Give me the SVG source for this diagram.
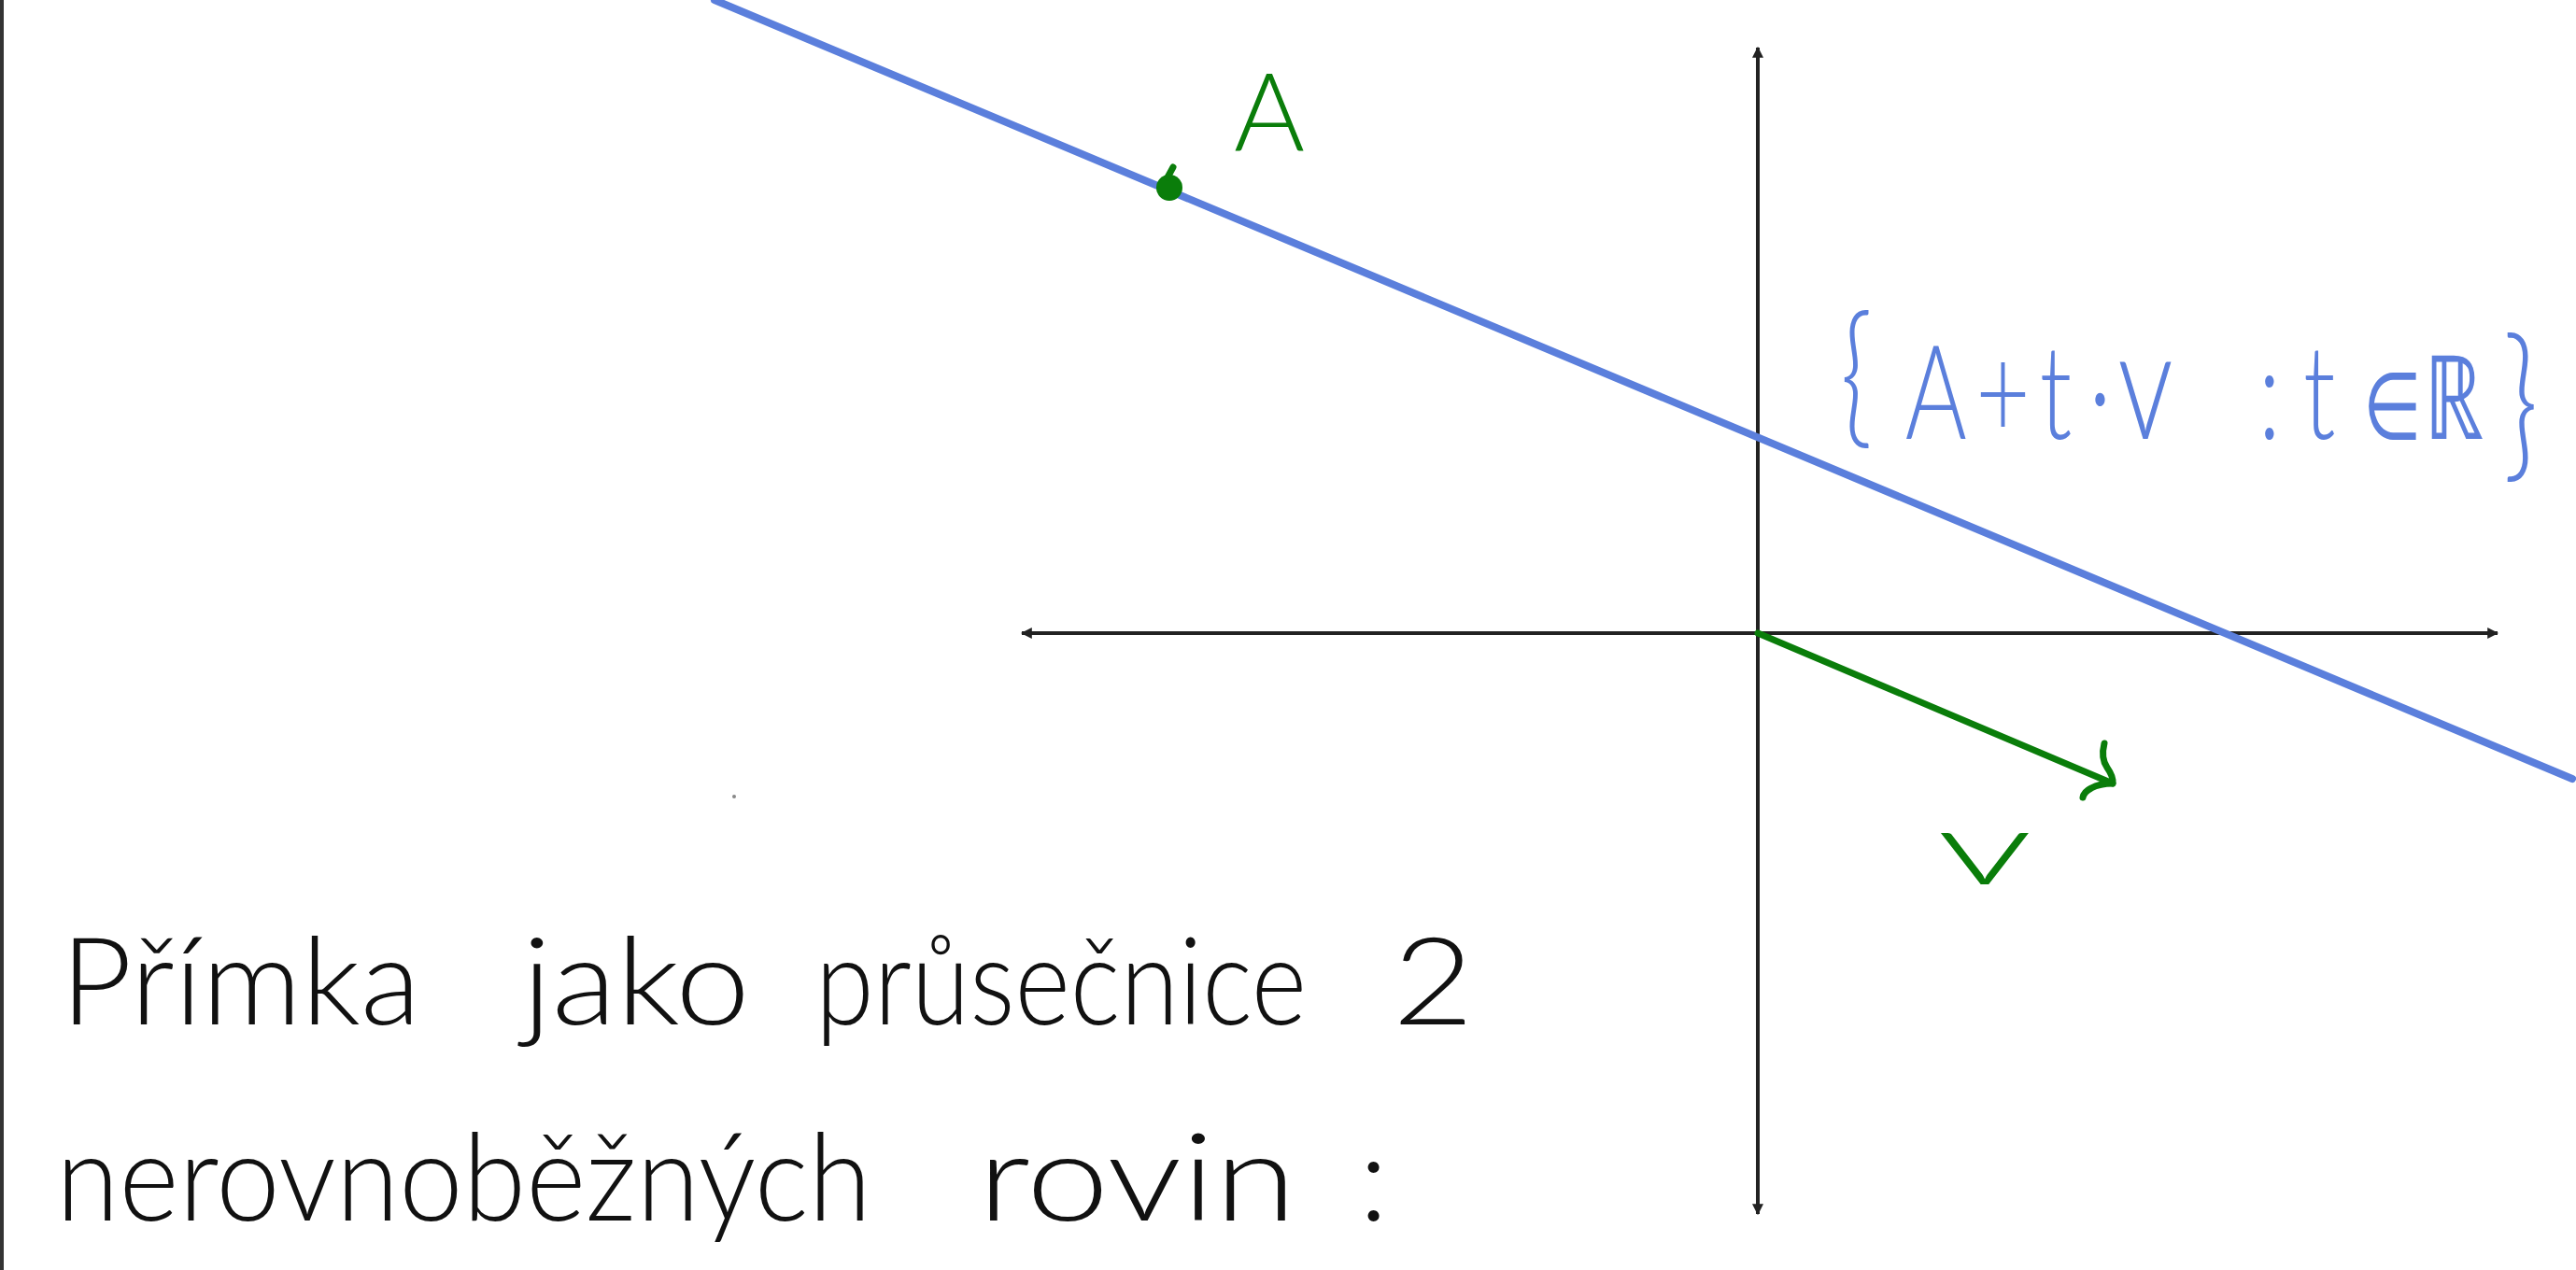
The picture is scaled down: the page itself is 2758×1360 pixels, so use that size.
<svg xmlns="http://www.w3.org/2000/svg" width="2758" height="1360" viewBox="0 0 2758 1360">
<style>
.axis{stroke:#222;stroke-width:4;fill:none}
.blue{stroke:#5b7fdc;stroke-width:8;fill:none;stroke-linecap:round}
.green{stroke:#0a7d0a;stroke-width:7;fill:none;stroke-linecap:round;stroke-linejoin:round}
.hw{font-family:Lato,"Liberation Sans",sans-serif;font-weight:300;fill:#111;font-size:130px}
.gtxt{font-family:Lato,"Liberation Sans",sans-serif;font-weight:300;fill:#0a7d0a}
.btxt{font-family:Lato,"Liberation Sans",sans-serif;font-weight:300;fill:#5b7fdc}
</style>
<defs>
<marker id="ah" viewBox="0 0 10 10" refX="9" refY="5" markerWidth="3" markerHeight="3" orient="auto-start-reverse">
<path d="M0,0 L10,5 L0,10 z" fill="#222"/>
</marker>
</defs>
<rect width="2758" height="1360" fill="#fff"/>
<rect x="0" y="0" width="4" height="1360" fill="#333"/>
<g id="connectors">
<line class="axis" x1="1094" y1="678" x2="2674" y2="678" marker-start="url(#ah)" marker-end="url(#ah)"/>
<line class="axis" x1="1882" y1="51" x2="1882" y2="1300" marker-start="url(#ah)" marker-end="url(#ah)"/>
<line class="blue" x1="765" y1="0" x2="2754" y2="834"/>
<g id="vector-v">
<line class="green" x1="1882" y1="678" x2="2262" y2="839"/>
<path class="green" stroke-width="6" d="M2253,796 Q2249,812 2256,822 Q2263,832 2262,839 Q2248,839 2239,844 Q2231,848 2230,854"/>
</g>
</g>
<g id="point-A">
<circle cx="1252" cy="201" r="14" fill="#0a7d0a"/>
<path class="green" d="M1250,190 L1256,179" stroke-width="4"/>
<text class="gtxt" x="1321" y="162" font-size="116">A</text>
</g>
<g id="label-v">
<text class="gtxt" x="2074" y="947" font-size="110" textLength="102" lengthAdjust="spacingAndGlyphs">v</text>
</g>
<g id="label-line">
<text class="btxt" font-size="140" transform="scale(0.72 1)" y="470"><tspan x="2736" y="458" font-size="165">{</tspan><tspan x="2833" y="470">A</tspan><tspan x="2938">+</tspan><tspan x="3033">t</tspan><tspan x="3106">·</tspan><tspan x="3149" font-size="165">v </tspan><tspan x="3358">: </tspan><tspan x="3425">t</tspan><tspan x="3514" font-size="100">∈</tspan><tspan x="3604" font-size="125">ℝ</tspan><tspan x="3722" y="492" font-size="180">}</tspan></text>
</g>
<circle cx="786" cy="853" r="2" fill="#888"/>
<g id="caption">
<text class="hw" y="1097"><tspan x="65" textLength="385" lengthAdjust="spacingAndGlyphs">Přímka</tspan> <tspan x="559" textLength="244" lengthAdjust="spacingAndGlyphs">jako</tspan> <tspan x="873" textLength="526" lengthAdjust="spacingAndGlyphs">průsečnice</tspan> <tspan x="1491" textLength="87" lengthAdjust="spacingAndGlyphs">2</tspan></text>
<text class="hw" y="1307"><tspan x="60" textLength="873" lengthAdjust="spacingAndGlyphs">nerovnoběžných</tspan> <tspan x="1047" textLength="341" lengthAdjust="spacingAndGlyphs">rovin</tspan> <tspan x="1455">:</tspan></text>
</g>
</svg>
